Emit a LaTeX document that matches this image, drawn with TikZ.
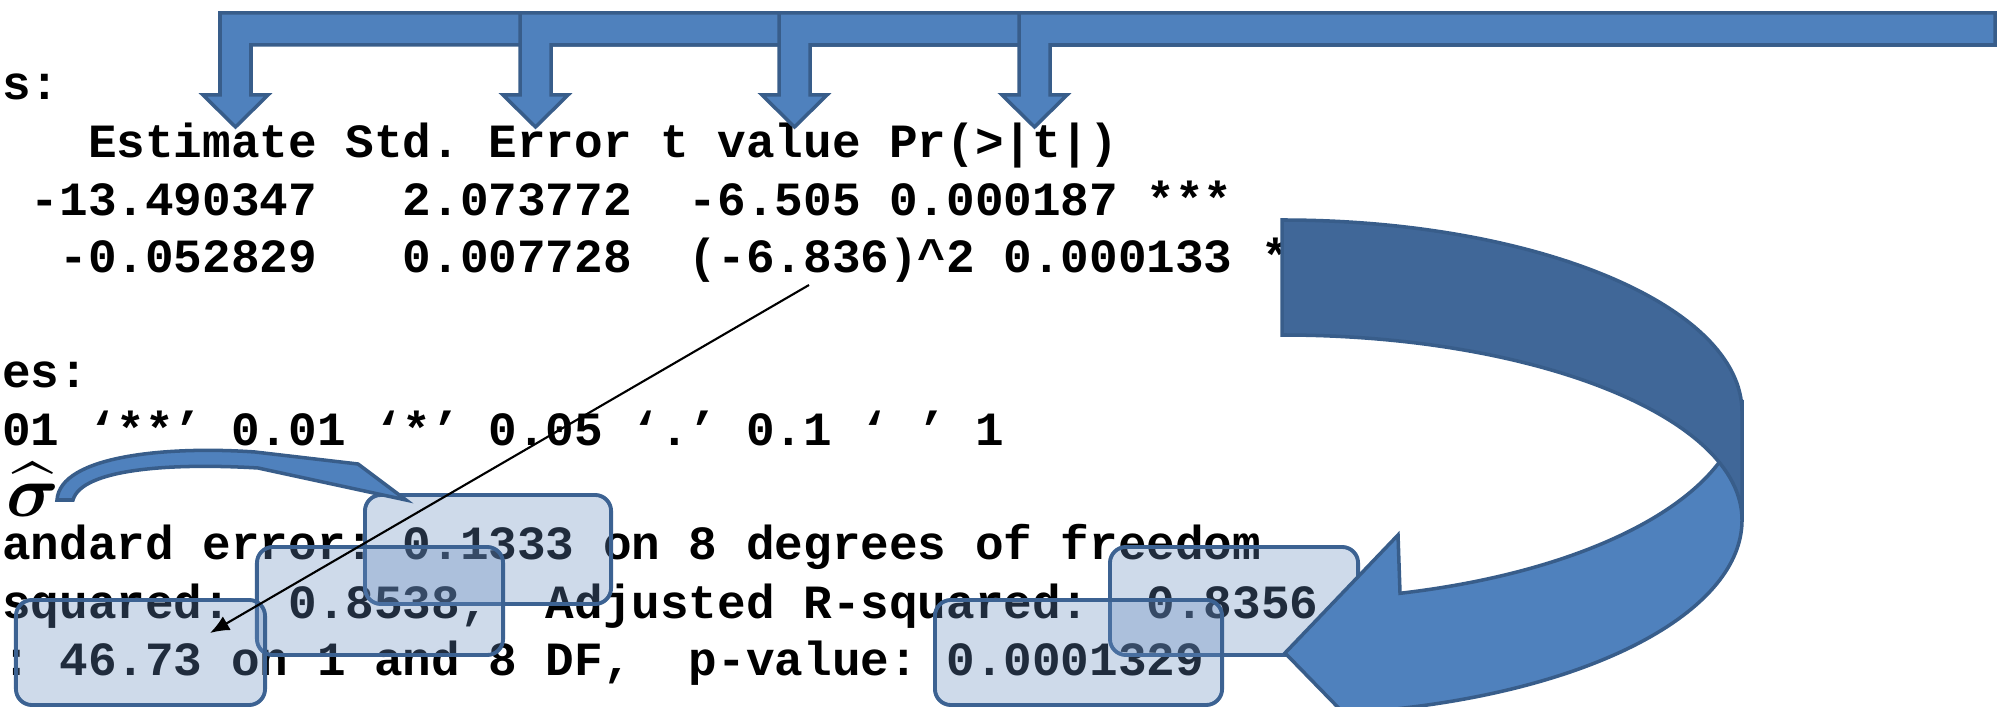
\documentclass[tikz,border=0pt]{standalone}
\usepackage{amsmath}
\usepackage{fontspec}
\newfontfamily\routfont{Liberation Mono}
\usepackage{tikz}
\usetikzlibrary{arrows.meta}
\frenchspacing

\definecolor{arrowfill}{RGB}{79,129,189}
\definecolor{arrowline}{RGB}{56,93,138}
\definecolor{arrowdark}{RGB}{64,103,152}
\definecolor{boxfill}{RGB}{102,139,190}
\definecolor{boxline}{RGB}{60,98,146}

\begin{document}
\begin{tikzpicture}[
    x=0.01cm, y=-0.01cm,
    rout/.style={anchor=base west, inner sep=0pt, font=\routfont\bfseries\fontsize{13.56pt}{16pt}\selectfont},
    valbox/.style={rectangle, draw=boxline, line width=1.1pt, rounded corners=0.16cm, fill=boxfill, fill opacity=0.32, inner sep=0pt},
    blockarrow/.style={fill=arrowfill, draw=arrowline, line width=1pt, line join=miter},
    pointer/.style={-{Latex[length=5.5pt,width=4.5pt]}, line width=0.6pt}
]
\useasboundingbox (0,0) rectangle (1998,707);
\clip (0,0) rectangle (1998,707);

% R output
\node[rout] (coef) at (1.6,100) {s:};
\node[rout] (head) at (87.4,158) {Estimate Std. Error t value Pr(>|t|)};
\node[rout] (row1) at (30.2,216) {-13.490347~~~2.073772~~-6.505 0.000187 ***};
\node[rout] (row2) at (58.8,273) {-0.052829~~~0.007728~~(-6.836)\textasciicircum{}2 0.000133 ***};
\node[rout] (codes) at (-27,388) {des:};
\node[rout] (codes2) at (1.6,446) {01 ‘**’ 0.01 ‘*’ 0.05 ‘.’ 0.1 ‘ ’ 1};
\node[rout] (rse) at (-27,560) {tandard error: 0.1333 on 8 degrees of freedom};
\node[rout] (rsq) at (1.6,618) {squared:~~0.8538,~~Adjusted R-squared:~~0.8356};
\node[rout] (fstat) at (1.6,675) {: 46.73 on 1 and 8 DF,~~p-value: 0.0001329};

% Highlight boxes
\node[valbox, minimum width=2.46cm, minimum height=1.09cm] (sebox) at (488,549.5) {};
\node[valbox, minimum width=2.46cm, minimum height=1.08cm] (rsqbox) at (380,601) {};
\node[valbox, minimum width=2.49cm, minimum height=1.05cm] (fbox) at (140.5,652.5) {};
\node[valbox, minimum width=2.48cm, minimum height=1.08cm] (adjbox) at (1234,601) {};
\node[valbox, minimum width=2.87cm, minimum height=1.05cm] (pbox) at (1078.5,652.5) {};

% t squared gives F
\coordinate (tstart) at (809,285);
\coordinate (ftip) at (210,633);
\draw[pointer] (tstart) -- (ftip);

% sigma hat
\node[inner sep=0pt, anchor=base, font=\fontsize{20pt}{24pt}\selectfont] (sighat) at (33,517) {$\widehat{\boldsymbol{\sigma}}$};
\filldraw[blockarrow] (57,500) .. controls (60,455) and (170,446) .. (255,452) -- (358,464) -- (406,500) -- (258,468) .. controls (175,463) and (82,468) .. (73,500) -- cycle;

% Column arrows
\foreach \sx in {220,520,779,1019}
  \filldraw[blockarrow] (\sx,13) -- (1995,13) -- (1995,45) -- (\sx+31,45) -- (\sx+31,95) -- (\sx+48,95) -- (\sx+15.5,127) -- (\sx-17,95) -- (\sx,95) -- cycle;

% Curved arrow, front then back
\filldraw[blockarrow] (1742,520) arc[start angle=0, end angle=75.14, x radius=460, y radius=195] -- (1400,771) -- (1285,653) -- (1398,535) -- (1400,593.3) arc[start angle=75.14, end angle=0, x radius=460, y radius=200] -- cycle;
\filldraw[blockarrow, fill=arrowdark] (1282,220) arc[start angle=-90, end angle=0, x radius=460, y radius=192] -- (1742,520) arc[start angle=0, end angle=-90, x radius=460, y radius=185] -- cycle;

\end{tikzpicture}
\end{document}
